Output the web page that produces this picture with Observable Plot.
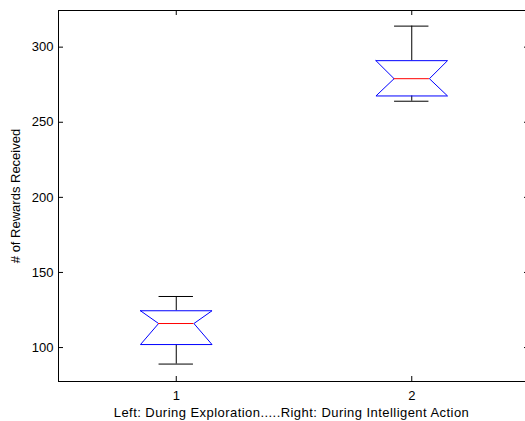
<!DOCTYPE html>
<html>
<head>
<meta charset="utf-8">
<script src="https://cdn.jsdelivr.net/npm/d3@7"></script>
<script src="https://cdn.jsdelivr.net/npm/@observablehq/plot@0.6"></script>
<style>
  html, body { margin: 0; padding: 0; background: #fff; }
  svg { display: block; }
</style>
</head>
<body>
<div id="chart"></div>
<script>
// ---- data ----
const groups = [1, 2];
const lowerWhisker = [89, 264];
const q1 = [102, 267.5];
const median = [116, 279];
const q3 = [124.5, 291];
const upperWhisker = [134, 314];
const yTicks = [100, 150, 200, 250, 300];
const xTickLabels = ["1", "2"];
const xLabel = "Left: During Exploration.....Right: During Intelligent Action";
const yLabel = "# of Rewards Received";

// ---- layout constants ----
const W = 525, H = 421;
const mL = 58, mR = -4, mT = 10, mB = 40;
const xDomain = [0.5, 2.5];
const yDomain = [77.4, 324.4];
const pxPerX = (W - mR - mL) / (xDomain[1] - xDomain[0]);
const pxPerY = (H - mB - mT) / (yDomain[1] - yDomain[0]);
const boxHalf = 0.152, notchHalf = 0.075, capHalf = 0.073;
const tickPx = 5;
const tx = tickPx / pxPerX, ty = tickPx / pxPerY;
const fs = 13;

const boxes = groups.map((g, i) => ({
  g, lo: lowerWhisker[i], q1: q1[i], med: median[i], q3: q3[i], hi: upperWhisker[i]
}));

// notched box outlines
const outline = boxes.flatMap(b => [
  {g: b.g, x: b.g - boxHalf, y: b.q3},
  {g: b.g, x: b.g + boxHalf, y: b.q3},
  {g: b.g, x: b.g + notchHalf, y: b.med},
  {g: b.g, x: b.g + boxHalf, y: b.q1},
  {g: b.g, x: b.g - boxHalf, y: b.q1},
  {g: b.g, x: b.g - notchHalf, y: b.med},
  {g: b.g, x: b.g - boxHalf, y: b.q3}
]);

const font = "Liberation Sans, Arial, Helvetica, sans-serif";

const chart = Plot.plot({
  width: W,
  height: H,
  marginLeft: mL,
  marginRight: mR,
  marginTop: mT,
  marginBottom: mB,
  style: {fontFamily: font, fontSize: fs + "px", color: "#000", background: "#fff", overflow: "visible"},
  x: {domain: xDomain, axis: null},
  y: {domain: yDomain, axis: null},
  marks: [
    // whiskers
    Plot.ruleX(boxes, {x: "g", y1: "q3", y2: "hi", stroke: "#000", strokeWidth: 1}),
    Plot.ruleX(boxes, {x: "g", y1: "lo", y2: "q1", stroke: "#000", strokeWidth: 1}),
    Plot.ruleY(boxes, {y: "hi", x1: d => d.g - capHalf, x2: d => d.g + capHalf, stroke: "#000"}),
    Plot.ruleY(boxes, {y: "lo", x1: d => d.g - capHalf, x2: d => d.g + capHalf, stroke: "#000"}),
    // boxes
    Plot.line(outline, {x: "x", y: "y", z: "g", stroke: "#0000ff", strokeWidth: 1, curve: "linear"}),
    // medians
    Plot.ruleY(boxes, {y: "med", x1: d => d.g - notchHalf, x2: d => d.g + notchHalf, stroke: "#ff0000"}),
    // frame
    Plot.frame({stroke: "#000", strokeWidth: 1}),
    // y ticks (inward, both sides)
    Plot.ruleY(yTicks, {x1: xDomain[0], x2: xDomain[0] + tx, stroke: "#000"}),
    Plot.ruleY(yTicks, {x1: xDomain[1] - tx, x2: xDomain[1], stroke: "#000"}),
    // x ticks (inward, top and bottom)
    Plot.ruleX(groups, {y1: yDomain[0], y2: yDomain[0] + ty, stroke: "#000"}),
    Plot.ruleX(groups, {y1: yDomain[1] - ty, y2: yDomain[1], stroke: "#000"}),
    // tick labels
    Plot.text(yTicks, {x: xDomain[0], y: d => d, text: d => String(d), textAnchor: "end", dx: -5, fill: "#000", fontSize: fs}),
    Plot.text(groups, {x: d => d, y: yDomain[0], text: (d, i) => xTickLabels[i], dy: 14, fill: "#000", fontSize: fs}),
    // axis labels
    Plot.text([xLabel], {x: (xDomain[0] + xDomain[1]) / 2, y: yDomain[0], text: d => d, dy: 31, dx: -2.5, fill: "#000", fontSize: fs}),
    Plot.text([yLabel], {x: xDomain[0], y: (yDomain[0] + yDomain[1]) / 2, text: d => d, rotate: -90, dx: -43, fill: "#000", fontSize: fs})
  ]
});

// slightly wider tracking on the x-axis title, as in the reference
d3.select(chart).selectAll("text")
  .filter(function () { return this.textContent === xLabel; })
  .attr("letter-spacing", "0.45px");

document.getElementById("chart").appendChild(chart);
</script>
</body>
</html>
